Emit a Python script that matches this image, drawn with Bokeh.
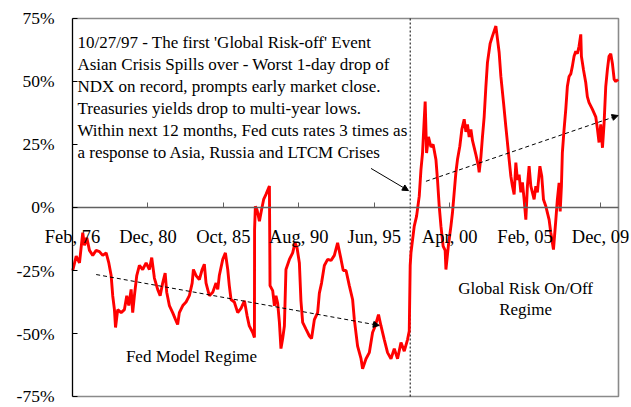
import numpy as np
from bokeh.plotting import figure
from bokeh.models import Range1d, FixedTicker, Arrow, NormalHead, Label
from bokeh.embed import file_html
from bokeh.resources import INLINE

# ---- data (decimal year, % value) ----
dates = [
    1976.10, 1976.32, 1976.53, 1976.74, 1976.85, 1977.00, 1977.17, 1977.38, 1977.60, 1977.81,
    1978.02, 1978.24, 1978.41, 1978.56, 1978.66, 1978.77, 1978.84, 1978.98, 1979.20, 1979.41,
    1979.56, 1979.69, 1979.84, 1979.94, 1980.05, 1980.20, 1980.37, 1980.58, 1980.80, 1981.01,
    1981.16, 1981.33, 1981.54, 1981.70, 1981.86, 1982.02, 1982.12, 1982.29, 1982.50, 1982.68,
    1982.82, 1982.93, 1983.15, 1983.36, 1983.57, 1983.75, 1983.83, 1984.00, 1984.21, 1984.39,
    1984.53, 1984.64, 1984.85, 1985.07, 1985.28, 1985.39, 1985.49, 1985.71, 1985.88, 1986.03,
    1986.13, 1986.24, 1986.45, 1986.67, 1986.88, 1987.10, 1987.27, 1987.41, 1987.63, 1987.74,
    1987.75, 1987.80, 1987.91, 1988.06, 1988.20, 1988.33, 1988.48, 1988.70, 1988.74, 1988.91,
    1989.02, 1989.12, 1989.23, 1989.34, 1989.44, 1989.55, 1989.66, 1989.76, 1989.98, 1990.19,
    1990.34, 1990.47, 1990.62, 1990.72, 1990.83, 1991.05, 1991.26, 1991.40, 1991.58, 1991.79,
    1991.90, 1992.04, 1992.22, 1992.43, 1992.65, 1992.86, 1993.07, 1993.29, 1993.43, 1993.61,
    1993.82, 1994.03, 1994.14, 1994.35, 1994.57, 1994.67, 1994.89, 1995.10, 1995.31, 1995.48,
    1995.69, 1995.85, 1996.06, 1996.27, 1996.49, 1996.70, 1996.91, 1997.13, 1997.34, 1997.55,
    1997.66, 1997.72, 1997.77, 1997.98, 1998.13, 1998.30, 1998.41, 1998.51, 1998.62, 1998.68,
    1998.77, 1998.89, 1999.05, 1999.19, 1999.37, 1999.47, 1999.58, 1999.69, 1999.83, 1999.96,
    2000.01, 2000.17, 2000.33, 2000.43, 2000.54, 2000.65, 2000.75, 2000.90, 2001.03, 2001.18,
    2001.29, 2001.39, 2001.50, 2001.61, 2001.71, 2001.93, 2002.09, 2002.14, 2002.25, 2002.35,
    2002.46, 2002.57, 2002.67, 2002.84, 2002.99, 2003.21, 2003.31, 2003.42, 2003.53, 2003.70,
    2003.85, 2003.95, 2004.06, 2004.17, 2004.27, 2004.38, 2004.49, 2004.59, 2004.70, 2004.81,
    2004.91, 2005.02, 2005.13, 2005.23, 2005.34, 2005.45, 2005.55, 2005.66, 2005.77, 2005.87,
    2006.03, 2006.15, 2006.26, 2006.41, 2006.51, 2006.62, 2006.73, 2006.90, 2007.05, 2007.15,
    2007.26, 2007.33, 2007.41, 2007.47, 2007.58, 2007.69, 2007.79, 2007.90, 2008.01, 2008.11,
    2008.22, 2008.33, 2008.43, 2008.54, 2008.65, 2008.69, 2008.82, 2008.97, 2009.07, 2009.18,
    2009.39, 2009.61, 2009.72, 2009.82, 2009.93, 2010.04, 2010.14, 2010.25, 2010.36, 2010.46,
    2010.57, 2010.68, 2010.79, 2010.89, 2011.04,
]
values = [
    -25.0, -19.3, -22.0, -10.0, -15.0, -12.0, -17.0, -19.0, -17.0, -17.5,
    -19.0, -18.0, -22.0, -27.0, -35.0, -40.5, -47.6, -40.5, -41.7, -40.5,
    -35.0, -38.9, -32.5, -41.7, -35.0, -27.0, -23.0, -24.6, -22.0, -24.6,
    -19.9, -28.0, -32.5, -35.0, -30.0, -26.0, -33.6, -38.9, -41.7, -44.4,
    -46.4, -41.7, -38.9, -37.5, -35.0, -30.0, -24.6, -27.0, -28.6, -24.6,
    -22.5, -30.0, -35.0, -33.6, -30.0, -32.5, -27.0, -20.6, -18.0, -24.6,
    -31.0, -36.5, -37.5, -41.7, -40.0, -37.0, -43.0, -47.0, -49.6, -51.6,
    -8.7, 0.5, -1.0, -5.4, -0.8, 3.2, 5.2, 8.5, -31.0, -33.0,
    -39.0, -35.0, -38.0, -45.6, -56.0, -52.0, -47.0, -24.6, -20.6, -18.0,
    -14.0, -16.0, -22.0, -37.0, -45.6, -48.4, -51.0, -52.0, -44.5, -41.7,
    -34.0, -30.0, -23.0, -20.6, -21.0, -19.0, -14.0, -20.6, -25.0, -25.0,
    -31.0, -36.5, -44.4, -55.0, -60.0, -64.0, -60.0, -57.6, -49.6, -47.0,
    -42.5, -47.0, -52.4, -57.6, -60.0, -56.0, -60.0, -53.6, -57.0, -52.4,
    -49.0, -23.0, -18.0, -7.4, -3.4, 4.5, 15.0, 21.6, 35.0, 42.0,
    21.6, 28.0, 24.0, 25.0, 19.0, 11.0, 0.5, -7.4, -15.3, -17.0,
    -24.6, -15.0, -7.4, -2.0, 6.0, 14.0, 19.0, 24.3, 31.0, 35.0,
    30.0, 33.0, 28.0, 31.0, 26.6, 21.0, 16.4, 14.0, 20.0, 28.0,
    36.0, 48.0, 57.5, 65.0, 68.0, 72.0, 67.0, 61.5, 52.0, 41.6,
    32.0, 25.8, 19.0, 12.4, 8.5, 5.2, 17.8, 11.0, 13.0, 6.0,
    10.0, 3.2, -4.8, 8.5, 16.4, 8.5, 6.0, 3.2, 8.5, 6.0,
    16.4, 12.4, 3.2, 0.5, -2.0, -4.8, -10.0, -16.7, -5.0, 3.2,
    9.8, -1.6, 8.5, 21.8, 31.0, 39.0, 48.0, 52.0, 53.0, 56.0,
    60.0, 62.0, 61.0, 64.0, 68.7, 60.0, 54.8, 49.5, 44.0, 41.6,
    39.0, 36.0, 31.0, 25.8, 33.0, 23.7, 33.0, 48.0, 55.0, 60.0,
    61.0, 57.0, 50.8, 50.0, 50.8,
]

x_tick_months = [1, 59, 117, 175, 233, 291, 349, 407]   # months since Jan 1976
x_tick_labels = ["Feb, 76", "Dec, 80", "Oct, 85", "Aug, 90", "Jun, 95", "Apr, 00", "Feb, 05", "Dec, 09"]
y_ticks = [75, 50, 25, 0, -25, -50, -75]
y_tick_labels = ["75%", "50%", "25%", "0%", "-25%", "-50%", "-75%"]

fed_trend_dates = [1977.60, 1995.74]
fed_trend_vals = [-26.6, -46.8]
risk_trend_dates = [1998.73, 2011.04]
risk_trend_vals = [10.4, 36.5]
event_date = 1997.72
note_arrow_dates = [1995.21, 1997.61]
note_arrow_vals = [15.5, 6.7]

note_text = ("10/27/97 -  The first  'Global Risk-off' Event\n"
             "Asian Crisis Spills over - Worst 1-day drop of\n"
             "NDX on record, prompts early market close.\n"
             "Treasuries yields drop to multi-year lows.\n"
             "Within next 12 months, Fed cuts rates 3 times as\n"
             "a response to Asia, Russia and LTCM Crises")


def to_month(yr):
    return (np.asarray(yr, dtype=float) - 1976.0) * 12.0


FONT = "Liberation Serif"

# plot box (data limits of the drawn chart area)
X_LO, X_HI = 1.0, 420.8
Y_LO, Y_HI = min(y_ticks), max(y_ticks)

# the frame covers the whole canvas so that axis labels placed beside the box
# are not clipped; the axes are pinned to the box edges.
p = figure(width=630, height=405, title=None, output_backend="svg", toolbar_location=None,
           x_range=Range1d(-54.36, 430.03), y_range=Range1d(-78.57, 82.14),
           min_border_left=0, min_border_right=0, min_border_top=0, min_border_bottom=0)
p.grid.visible = False
p.outline_line_color = None
p.background_fill_color = "white"
p.border_fill_color = "white"

# box border: top, right and bottom edges in grey
p.line(x=[X_LO, X_HI, X_HI, X_LO], y=[Y_HI, Y_HI, Y_LO, Y_LO],
       line_color="#8a8a8a", line_width=1.6)

# y axis on the left edge of the box
ya = p.yaxis[0]
ya.fixed_location = X_LO
ya.bounds = (Y_LO, Y_HI)
ya.ticker = FixedTicker(ticks=y_ticks)
ya.major_label_overrides = {t: l for t, l in zip(y_ticks, y_tick_labels)}
ya.major_tick_in = 5
ya.major_tick_out = 0
ya.minor_tick_line_color = None
ya.axis_line_color = "black"
ya.axis_line_width = 1.3
ya.major_tick_line_color = "black"
ya.major_label_standoff = 18
ya.major_label_text_font = FONT
ya.major_label_text_font_size = "17.5px"
ya.major_label_text_color = "black"

# x axis drawn through 0%
xa = p.xaxis[0]
xa.fixed_location = 0
xa.bounds = (X_LO, X_HI)
xa.ticker = FixedTicker(ticks=x_tick_months)
xa.major_label_overrides = {t: l for t, l in zip(x_tick_months, x_tick_labels)}
xa.major_tick_in = 5
xa.major_tick_out = 0
xa.minor_tick_line_color = None
xa.axis_line_color = "#606060"
xa.axis_line_width = 1.3
xa.major_tick_line_color = "#606060"
xa.major_label_standoff = 20
xa.major_label_text_font = FONT
xa.major_label_text_font_size = "18.5px"
xa.major_label_text_color = "black"

# event line (10/27/97)
ev = float(to_month(event_date))
p.segment(x0=[ev], y0=[Y_LO], x1=[ev], y1=[Y_HI], line_color="black",
          line_dash="2 2", line_width=1)

# main series
p.line(to_month(dates), values, line_color="#ff0000", line_width=2.9)

# trend lines
fx = to_month(fed_trend_dates)
p.add_layout(Arrow(x_start=fx[0], y_start=fed_trend_vals[0], x_end=fx[1], y_end=fed_trend_vals[1],
                   line_color="black", line_width=1, line_dash="4 3",
                   end=NormalHead(size=6, fill_color="black", line_color="black")))
rx = to_month(risk_trend_dates)
p.add_layout(Arrow(x_start=rx[0], y_start=risk_trend_vals[0], x_end=rx[1], y_end=risk_trend_vals[1],
                   line_color="black", line_width=1, line_dash="4 3",
                   end=NormalHead(size=6, fill_color="black", line_color="black")))
ax = to_month(note_arrow_dates)
p.add_layout(Arrow(x_start=ax[0], y_start=note_arrow_vals[0], x_end=ax[1], y_end=note_arrow_vals[1],
                   line_color="black", line_width=1,
                   end=NormalHead(size=6, fill_color="black", line_color="black")))

# texts
p.add_layout(Label(x=4.8, y=69.3, text=note_text, text_font=FONT, text_font_size="17px",
                   text_color="black", text_baseline="top", text_align="left", text_line_height=1.16))
p.add_layout(Label(x=92.5, y=-59.1, text="Fed Model Regime", text_font=FONT, text_font_size="17px",
                   text_color="black", text_baseline="middle", text_align="center"))
p.add_layout(Label(x=349.4, y=-36.3, text="Global Risk On/Off\nRegime", text_font=FONT,
                   text_font_size="17px", text_color="black", text_baseline="middle",
                   text_align="center", text_line_height=1.1))

open("out.html", "w").write(file_html(p, INLINE))
